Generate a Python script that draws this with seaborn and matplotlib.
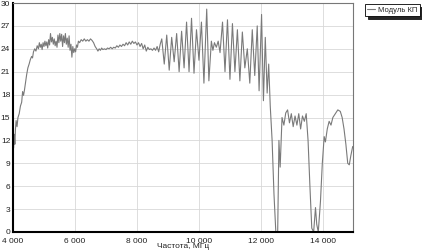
import pandas as pd
import matplotlib
matplotlib.use("Agg")
import matplotlib.pyplot as plt
import seaborn as sns
from matplotlib.ticker import FuncFormatter

# --- Datos ---
frecuencia = [
    4000, 4020, 4040, 4060, 4080, 4100, 4130, 4160, 4200, 4240, 4280, 4310, 4340, 4370,
    4400, 4440, 4480, 4520, 4560, 4600, 4630, 4660, 4700, 4740, 4780, 4820, 4850, 4880,
    4910, 4940, 4970, 5000, 5030, 5060, 5090, 5120, 5150, 5180, 5210, 5240, 5270, 5300,
    5330, 5360, 5390, 5420, 5450, 5480, 5510, 5540, 5570, 5600, 5630, 5660, 5690, 5720,
    5750, 5780, 5810, 5840, 5870, 5900, 5930, 5960, 5990, 6020, 6050, 6080, 6110, 6150,
    6200, 6250, 6300, 6350, 6400, 6450, 6500, 6550, 6600, 6650, 6700, 6740, 6780, 6820,
    6860, 6900, 6950, 7000, 7050, 7100, 7150, 7200, 7250, 7300, 7350, 7400, 7450, 7500,
    7550, 7600, 7650, 7700, 7750, 7800, 7850, 7900, 7950, 8000, 8050, 8100, 8150, 8200,
    8250, 8300, 8350, 8400, 8450, 8500, 8550, 8600, 8650, 8700, 8750, 8800, 8880, 8960,
    9040, 9120, 9200, 9280, 9360, 9440, 9520, 9600, 9680, 9760, 9840, 9920, 10000, 10080,
    10160, 10250, 10320, 10400, 10450, 10500, 10560, 10620, 10680, 10760, 10840, 10920,
    11000, 11080, 11160, 11240, 11320, 11400, 11480, 11560, 11640, 11720, 11800, 11880,
    11940, 12020, 12080, 12140, 12200, 12250, 12300, 12360, 12420, 12480, 12540, 12580,
    12620, 12680, 12740, 12800, 12860, 12920, 12980, 13040, 13100, 13160, 13220, 13280,
    13340, 13400, 13460, 13520, 13580, 13640, 13700, 13760, 13800, 13850, 13920, 13980,
    14040, 14080, 14140, 14200, 14260, 14320, 14400, 14480, 14560, 14620, 14680, 14740,
    14800, 14850, 14900, 14960,
]
modulo_kp = [
    12.5, 11.0, 12.8, 11.5, 13.5, 14.6, 13.8, 15.0, 15.5, 16.5, 17.0, 18.4, 17.9, 18.6,
    19.5, 20.6, 21.5, 22.0, 22.6, 23.0, 22.8, 23.6, 24.0, 23.7, 24.4, 24.0, 24.8, 24.2,
    24.6, 23.9, 24.8, 24.3, 25.0, 24.4, 24.9, 24.1, 25.2, 24.5, 26.0, 24.9, 25.5, 24.6,
    25.3, 24.4, 25.0, 24.2, 25.8, 24.8, 26.0, 25.0, 25.9, 24.3, 25.7, 24.8, 26.0, 24.6,
    25.4, 24.2, 25.7, 23.8, 24.6, 22.9, 24.3, 23.5, 24.0, 23.6, 24.5, 24.2, 25.0, 24.8,
    25.2, 25.0, 25.3, 25.0, 25.2, 25.0, 25.3, 25.1, 24.8, 24.3, 24.0, 23.7, 24.0, 23.8,
    24.1, 23.9, 24.0, 23.9, 24.1, 24.0, 24.2, 24.0, 24.2, 24.1, 24.4, 24.2, 24.5, 24.3,
    24.6, 24.4, 24.8, 24.5, 24.9, 24.6, 25.0, 24.7, 24.9, 24.5, 24.8, 24.3, 24.7, 24.0,
    24.5, 23.7, 24.2, 23.9, 24.0, 23.8, 24.1, 23.8, 24.3, 23.6, 24.6, 25.3, 22.0, 25.8,
    21.2, 25.5, 22.3, 26.0, 21.0, 26.3, 21.5, 27.5, 21.0, 28.0, 20.8, 26.5, 22.5, 27.5,
    19.5, 29.2, 19.8, 25.0, 23.8, 24.8, 24.2, 25.0, 23.5, 27.5, 21.0, 27.8,
    20.0, 27.3, 21.0, 26.5, 19.8, 26.2, 21.5, 24.0, 19.5, 26.5, 20.5, 27.0,
    18.5, 28.5, 17.2, 25.5, 18.2, 22.0, 16.5, 12.0, 5.0, 0.0, 0.0, 12.0,
    8.5, 15.0, 14.0, 15.6, 16.0, 14.3, 15.5, 13.8, 15.2, 14.0, 15.5, 13.5,
    15.2, 14.5, 15.5, 12.0, 6.0, 0.5, 0.0, 3.2, 1.0, 0.0, 4.0, 9.0,
    12.5, 11.8, 13.5, 14.5, 14.0, 15.0, 15.5, 16.0, 15.8, 15.0, 13.5, 11.5,
    9.0, 8.8, 10.0, 11.2,
]
xticks = [4000, 6000, 8000, 10000, 12000, 14000]
yticks = list(range(0, 31, 3))

df = pd.DataFrame({"Частота, МГц": frecuencia, "Модуль КП": modulo_kp})

sns.set_style("white")
plt.rcParams["font.family"] = ["Liberation Sans", "DejaVu Sans"]

fig = plt.figure(figsize=(4.22, 2.52), dpi=100)
ax = fig.add_axes([13 / 422, 20 / 252, 340 / 422, 229 / 252])

sns.lineplot(data=df, x="Частота, МГц", y="Модуль КП", ax=ax,
             color="#7a7a7a", linewidth=0.8, label="Модуль КП")

ax.set_xlim(4000, 14970)
ax.set_ylim(0, 30)
ax.set_xticks(xticks)
ax.set_yticks(yticks)
ax.xaxis.set_major_formatter(FuncFormatter(lambda v, p: f"{int(v):,}".replace(",", " ")))
ax.grid(True, color="#d8d8d8", linewidth=0.6)
ax.tick_params(labelsize=6, length=0, colors="#222222")
ax.tick_params(axis="x", pad=4)
ax.tick_params(axis="y", pad=2)
ax.set_ylabel("")
ax.set_xlabel("Частота, МГц", fontsize=6, labelpad=-1, color="#222222")

for lado in ["left", "bottom"]:
    ax.spines[lado].set_color("black")
    ax.spines[lado].set_linewidth(1.5)
for lado in ["top", "right"]:
    ax.spines[lado].set_color("#777777")
    ax.spines[lado].set_linewidth(0.8)

leg = ax.legend(loc="upper left", bbox_to_anchor=(365 / 422, 1 - 4 / 252),
                bbox_transform=fig.transFigure, fontsize=5.5, frameon=True,
                fancybox=False, shadow={"color": "black", "alpha": 0.85},
                handlelength=1.0, handletextpad=0.4,
                borderpad=0.3, borderaxespad=0)
leg.get_frame().set_edgecolor("black")
leg.get_frame().set_linewidth(0.6)

fig.savefig("out.png", dpi=100)
